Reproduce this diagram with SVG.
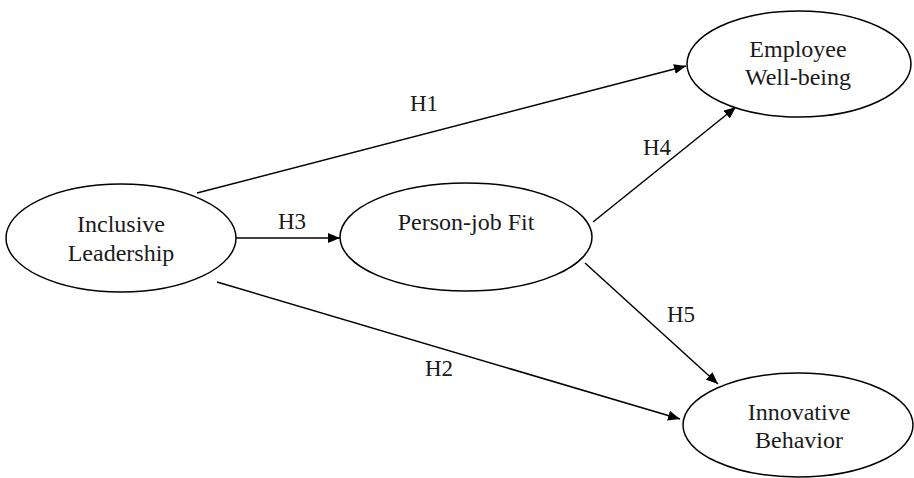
<svg xmlns="http://www.w3.org/2000/svg" width="914" height="478" viewBox="0 0 914 478">
<defs>
<marker id="arr" viewBox="0 0 12 10" refX="12" refY="5" markerWidth="12" markerHeight="10" markerUnits="userSpaceOnUse" orient="auto">
<path d="M0,0 L12,5 L0,10 Z" fill="#000"/>
</marker>
<style>
.node ellipse{fill:#fff;stroke:#000;stroke-width:1.5}
text{font-family:"Liberation Serif","Times New Roman",serif;fill:#1a1a1a;text-anchor:middle}
.nt{font-size:24px}
.lb{font-size:23px}
.edges line{stroke:#000;stroke-width:1.5;marker-end:url(#arr)}
</style>
</defs>
<rect width="914" height="478" fill="#fff"/>
<g class="edges">
<line x1="197" y1="193" x2="686" y2="66"/>
<line x1="236" y1="238" x2="340" y2="238"/>
<line x1="217" y1="282" x2="680" y2="419"/>
<line x1="593" y1="222" x2="736" y2="107"/>
<line x1="585" y1="263" x2="718" y2="384"/>
</g>
<g class="labels">
<text class="lb" x="424" y="111">H1</text>
<text class="lb" x="292" y="229">H3</text>
<text class="lb" x="657" y="155">H4</text>
<text class="lb" x="681" y="322">H5</text>
<text class="lb" x="439" y="376">H2</text>
</g>
<g class="node" id="inclusive-leadership">
<ellipse cx="121" cy="238" rx="115" ry="54"/>
<text class="nt" x="121" y="232">Inclusive</text>
<text class="nt" x="121" y="261">Leadership</text>
</g>
<g class="node" id="person-job-fit">
<ellipse cx="466" cy="237" rx="126" ry="54"/>
<text class="nt" x="466" y="230">Person-job Fit</text>
</g>
<g class="node" id="employee-well-being">
<ellipse cx="799" cy="64" rx="112" ry="53"/>
<text class="nt" x="798" y="57">Employee</text>
<text class="nt" x="798" y="85">Well-being</text>
</g>
<g class="node" id="innovative-behavior">
<ellipse cx="798" cy="425" rx="115" ry="52"/>
<text class="nt" x="799" y="420">Innovative</text>
<text class="nt" x="799" y="448">Behavior</text>
</g>
</svg>
